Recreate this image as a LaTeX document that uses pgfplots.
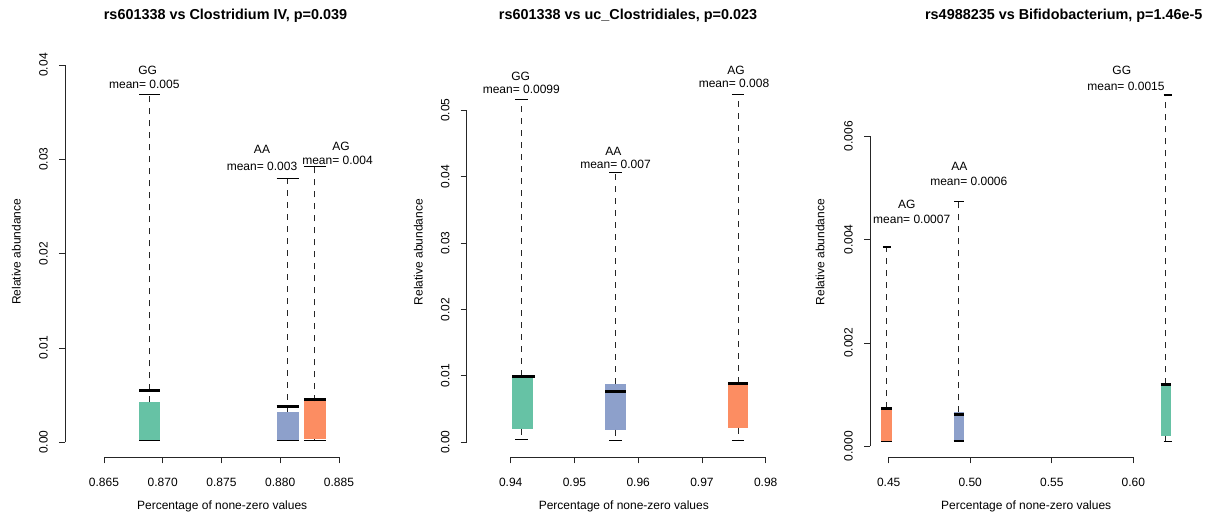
\documentclass[border=0pt]{standalone}
\usepackage{fontspec}
\setmainfont{Liberation Sans}
\usepackage{pgfplots}
\pgfplotsset{compat=1.18}
\definecolor{cgreen}{HTML}{66C2A5}
\definecolor{cblue}{HTML}{8DA0CB}
\definecolor{corange}{HTML}{FC8D62}
% box: left, right, q1, q3, (median), colour
\newcommand\rbox[6]{%
  \addplot[fill=#6, draw=none, forget plot] coordinates {(#1,#3) (#2,#3) (#2,#4) (#1,#4)};
}
% thick median line: left, right, value
\newcommand\rmed[3]{%
  \addplot[line width=3pt, line cap=butt, forget plot] coordinates {(#1,#3) (#2,#3)};
}
% whisker: x, cap left, cap right, from, to
\newcommand\rwhisk[5]{%
  \addplot[line width=1pt, dash pattern=on 6pt off 6pt, black!85, forget plot] coordinates {(#1,#4) (#1,#5)};
  \addplot[line width=1.2pt, line cap=butt, forget plot] coordinates {(#2,#5) (#3,#5)};
}
\pgfplotsset{rstyle/.style={
  scale only axis, clip=false, anchor=south west,
  axis x line=bottom, axis y line=left,
  axis line style={draw=none},
  tick align=outside, major tick length=6pt,
  minor tick num=0, scaled ticks=false,
  tick style={line width=0.9pt, black!85},
  tick label style={font=\fontsize{12}{14}\selectfont},
  /pgf/number format/assume math mode=true,
  yticklabel style={rotate=90, anchor=south, inner sep=0pt},
  xticklabel style={anchor=north, inner sep=0pt},
  xticklabel shift=15pt, yticklabel shift=11pt,
}}
\begin{document}
\begin{tikzpicture}[x=1pt,y=1pt]
\path[use as bounding box] (0,0) rectangle (1207,518);
% ---------- panel 1
\begin{axis}[rstyle, at={(104pt,75.7pt)}, width=235pt, height=377.3pt,
  xmin=0.865, xmax=0.885, ymin=0, ymax=0.04,
  axis x line shift=15pt, axis y line shift=39pt,
  xtick={0.865,0.870,0.875,0.880,0.885}, xticklabels={0.865,0.870,0.875,0.880,0.885},
  ytick={0,0.01,0.02,0.03,0.04}, yticklabels={0.00,0.01,0.02,0.03,0.04}]
\draw[line width=0.9pt, black!85] ([yshift=-15pt]axis cs:0.865,0) -- ([yshift=-15pt]axis cs:0.885,0);
\draw[line width=0.9pt, black!85] ([xshift=-39pt]axis cs:0.865,0) -- ([xshift=-39pt]axis cs:0.865,0.04);
\rbox{0.86798}{0.86977}{0.00024}{0.00424}{0.00544}{cgreen}
\rbox{0.87970}{0.88160}{0.00024}{0.00325}{0.00382}{cblue}
\rbox{0.88202}{0.88389}{0.00032}{0.00435}{0.00456}{corange}
\rwhisk{0.86885}{0.86798}{0.86977}{0.00424}{0.03688}
\rwhisk{0.86885}{0.86798}{0.86977}{0.00024}{0.00017}
\rwhisk{0.88063}{0.87970}{0.88160}{0.00325}{0.02794}
\rwhisk{0.88063}{0.87970}{0.88160}{0.00024}{0.00017}
\rwhisk{0.88293}{0.88202}{0.88389}{0.00435}{0.02921}
\rwhisk{0.88293}{0.88202}{0.88389}{0.00032}{0.00017}
\rmed{0.86798}{0.86977}{0.00544}
\rmed{0.87970}{0.88160}{0.00382}
\rmed{0.88202}{0.88389}{0.00456}
\end{axis}
% ---------- panel 2
\begin{axis}[rstyle, at={(510.7pt,75.7pt)}, width=255pt, height=332pt,
  xmin=0.94, xmax=0.98, ymin=0, ymax=0.05,
  axis x line shift=15pt, axis y line shift=44pt,
  xtick={0.94,0.95,0.96,0.97,0.98}, xticklabels={0.94,0.95,0.96,0.97,0.98},
  ytick={0,0.01,0.02,0.03,0.04,0.05}, yticklabels={0.00,0.01,0.02,0.03,0.04,0.05}]
\draw[line width=0.9pt, black!85] ([yshift=-15pt]axis cs:0.94,0) -- ([yshift=-15pt]axis cs:0.98,0);
\draw[line width=0.9pt, black!85] ([xshift=-44pt]axis cs:0.94,0) -- ([xshift=-44pt]axis cs:0.94,0.05);
\rbox{0.94022}{0.94356}{0.00205}{0.01003}{0.00998}{cgreen}
\rbox{0.95483}{0.95812}{0.0019}{0.00878}{0.00762}{cblue}
\rbox{0.97414}{0.97722}{0.0022}{0.00898}{0.00889}{corange}
\rwhisk{0.94175}{0.94074}{0.94273}{0.01003}{0.05166}
\rwhisk{0.94175}{0.94074}{0.94273}{0.00205}{0.00045}
\rwhisk{0.95651}{0.95546}{0.95745}{0.00878}{0.04066}
\rwhisk{0.95651}{0.95546}{0.95745}{0.0019}{0.00024}
\rwhisk{0.97571}{0.97468}{0.97665}{0.00898}{0.05235}
\rwhisk{0.97571}{0.97468}{0.97665}{0.0022}{0.00024}
\rmed{0.94022}{0.94380}{0.00998}
\rmed{0.95483}{0.95812}{0.00762}
\rmed{0.97414}{0.97722}{0.00889}
\end{axis}
% ---------- panel 3
\begin{axis}[rstyle, at={(888.7pt,71.7pt)}, width=244.6pt, height=310pt,
  xmin=0.45, xmax=0.60, ymin=0, ymax=0.006,
  axis x line shift=11pt, axis y line shift=18.7pt,
  xtick={0.45,0.50,0.55,0.60}, xticklabels={0.45,0.50,0.55,0.60},
  ytick={0,0.002,0.004,0.006}, yticklabels={0.000,0.002,0.004,0.006}]
\draw[line width=0.9pt, black!85] ([yshift=-11pt]axis cs:0.45,0) -- ([yshift=-11pt]axis cs:0.60,0);
\draw[line width=0.9pt, black!85] ([xshift=-18.7pt]axis cs:0.45,0) -- ([xshift=-18.7pt]axis cs:0.45,0.006);
\rbox{0.44553}{0.45196}{0.0000968}{0.00074}{0.00073}{corange}
\rbox{0.48979}{0.49634}{0.000103}{0.000658}{0.000612}{cblue}
\rbox{0.61677}{0.62307}{0.000199}{0.0012}{0.00119}{cgreen}
\rwhisk{0.44890}{0.44645}{0.45135}{0.00074}{0.003857}
\rwhisk{0.44890}{0.44553}{0.45196}{0.0000968}{0.0000968}
\rwhisk{0.49286}{0.49022}{0.49592}{0.000658}{0.004742}
\rwhisk{0.49286}{0.48979}{0.49634}{0.000103}{0.000103}
\rwhisk{0.62001}{0.61861}{0.62351}{0.0012}{0.0068}
\rwhisk{0.62001}{0.61861}{0.62351}{0.000199}{0.0000968}
\rmed{0.44553}{0.45196}{0.00073}
\rmed{0.48979}{0.49634}{0.000612}
\rmed{0.61677}{0.62307}{0.00119}
\end{axis}
% ---------- texts
\begin{scope}[every node/.style={inner sep=0pt, anchor=base, font=\fontsize{12}{14}\selectfont}]
\node[font=\fontsize{14.4}{16}\selectfont\bfseries] at (225.5,498.3) {rs601338 vs Clostridium IV, p=0.039};
\node[font=\fontsize{14.4}{16}\selectfont\bfseries] at (628,498.3) {rs601338 vs uc\_Clostridiales, p=0.023};
\node[font=\fontsize{14.4}{16}\selectfont\bfseries] at (1063.8,498.3) {rs4988235 vs Bifidobacterium, p=1.46e-5};
\node at (222.2,8) {Percentage of none-zero values};
\node at (623.8,8) {Percentage of none-zero values};
\node at (1026.2,8) {Percentage of none-zero values};
\node[rotate=90] at (20.7,266.3) {Relative abundance};
\node[rotate=90] at (422.7,266) {Relative abundance};
\node[rotate=90] at (824.3,266) {Relative abundance};
% panel 1 labels
\node at (147.7,443.7) {GG};  \node at (144.3,429.7) {mean= 0.005};
\node at (262,364.7) {AA};    \node at (262,347) {mean= 0.003};
\node at (341,367.7) {AG};    \node at (337.5,353.4) {mean= 0.004};
% panel 2 labels
\node at (520.7,437.7) {GG};  \node at (521.3,424.7) {mean= 0.0099};
\node at (613.3,362.7) {AA};  \node at (615.5,349.4) {mean= 0.007};
\node at (736,443) {AG};      \node at (734,430.4) {mean= 0.008};
% panel 3 labels
\node at (906.7,309.7) {AG};  \node at (911.7,294.7) {mean= 0.0007};
\node at (959.3,347) {AA};    \node at (968.8,332.7) {mean= 0.0006};
\node at (1121.8,443) {GG};   \node at (1126,427.7) {mean= 0.0015};
\end{scope}
\end{tikzpicture}
\end{document}
